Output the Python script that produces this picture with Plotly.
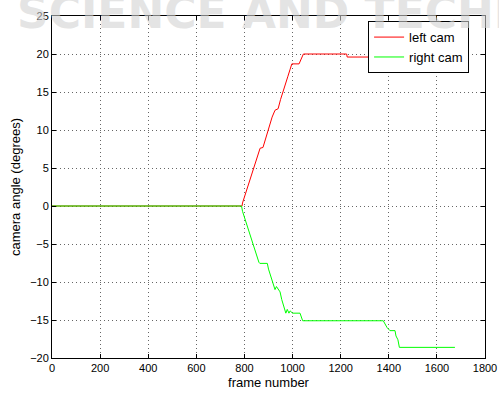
import plotly.graph_objects as go

left_frames = [0, 790, 792, 800, 810, 820, 830, 840, 850, 860, 865, 877, 885, 895, 905, 915, 927, 940, 950, 960, 970, 980, 990, 997, 1027, 1035, 1045, 1225, 1227, 1680]
left_angle = [0, 0, 0.4, 1.2, 2.3, 3.4, 4.4, 5.3, 6.3, 7.3, 7.6, 7.7, 8.6, 9.8, 10.8, 11.7, 12.6, 12.8, 14.0, 15.1, 16.0, 17.0, 18.0, 18.7, 18.7, 19.3, 20, 20, 19.6, 19.6]

right_frames = [0, 788, 792, 800, 810, 820, 830, 840, 850, 860, 864, 895, 900, 910, 920, 927, 933, 940, 948, 955, 965, 972, 978, 985, 990, 1000, 1031, 1036, 1042, 1377, 1385, 1393, 1405, 1426, 1430, 1438, 1444, 1675]
right_angle = [0, 0, -0.7, -1.5, -2.5, -3.6, -4.6, -5.6, -6.5, -7.4, -7.55, -7.55, -8.3, -9.3, -10.4, -11.0, -10.6, -10.9, -11.3, -12.3, -13.4, -14.1, -13.6, -14.1, -13.8, -14.1, -14.1, -14.6, -15.1, -15.1, -15.6, -16.0, -16.4, -16.4, -17.1, -17.6, -18.6, -18.6]

x_ticks = list(range(0, 1801, 200))
y_ticks = list(range(-20, 26, 5))

fig = go.Figure()
fig.add_trace(go.Scatter(x=left_frames, y=left_angle, mode="lines", name="left cam",
                         line=dict(color="#ff0000", width=1)))
fig.add_trace(go.Scatter(x=right_frames, y=right_angle, mode="lines", name="right cam",
                         line=dict(color="#00ff00", width=1)))

axis_common = dict(
    showline=True, linecolor="black", linewidth=1, mirror="ticks",
    ticks="inside", ticklen=4, tickcolor="black",
    showgrid=True, gridcolor="#666666", griddash="1px,3px", gridwidth=1,
    zeroline=False, automargin=False,
    tickfont=dict(family="Arial", size=11, color="black"),
)

fig.update_xaxes(range=[0, 1800], tickvals=x_ticks,
                 title=dict(text="frame number", font=dict(family="Arial", size=13, color="black"), standoff=4),
                 **axis_common)
fig.update_yaxes(range=[-20, 25], tickvals=y_ticks,
                 title=dict(text="camera angle (degrees)", font=dict(family="Arial", size=13, color="black"), standoff=6),
                 **axis_common)

fig.add_annotation(text="<b>SCIENCE AND TECHNOLOGY</b>", xref="paper", yref="paper",
                   x=-0.085, y=0.93, xanchor="left", yanchor="bottom", showarrow=False,
                   font=dict(family="DejaVu Sans", size=44, color="rgba(210,210,210,0.6)"))

fig.update_layout(
    width=499, height=394,
    margin=dict(l=52, r=14, t=16, b=36),
    paper_bgcolor="white", plot_bgcolor="white",
    showlegend=True,
    legend=dict(x=0.73, y=0.985, xanchor="left", yanchor="top",
                bgcolor="white", bordercolor="black", borderwidth=1,
                font=dict(family="Arial", size=13, color="black"),
                tracegroupgap=0, itemwidth=30),
)

fig.write_html("out.html", config={"displayModeBar": False},
               post_script="document.body.style.margin='0';document.body.style.overflow='hidden';")
